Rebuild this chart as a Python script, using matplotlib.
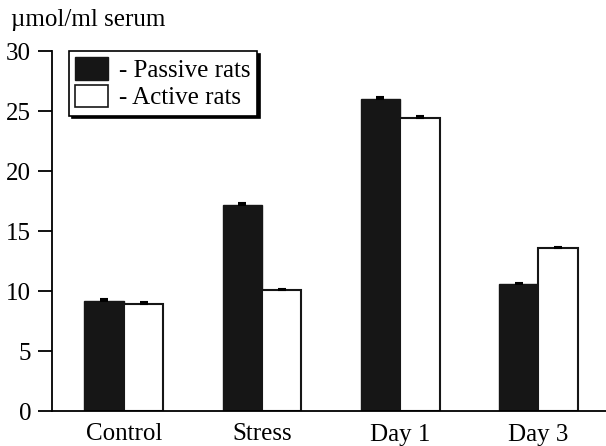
import numpy as np
import matplotlib.pyplot as plt
from matplotlib.patches import Patch

plt.rcParams['font.family'] = ['Liberation Serif', 'DejaVu Serif']

categories = ['Control', 'Stress', 'Day 1', 'Day 3']
passive = [9.2, 17.2, 26.0, 10.6]
active = [8.9, 10.1, 24.4, 13.6]
passive_err = [0.15, 0.1, 0.15, 0.1]
active_err = [0.15, 0.1, 0.15, 0.1]

fig = plt.figure(figsize=(6.06, 4.46), dpi=100)
ax = fig.add_axes([52 / 606, 1 - 411 / 446, 1 - 52 / 606, (411 - 51) / 446])

x = np.arange(len(categories))
w = 0.285
zeros = [0] * len(categories)
ax.bar(x - w / 2, passive, w, color='#161616', edgecolor='#161616', linewidth=1,
       yerr=[zeros, passive_err], error_kw=dict(ecolor='black', capsize=3, elinewidth=1, capthick=1.5))
ax.bar(x + w / 2, active, w, color='white', edgecolor='#161616', linewidth=1.5,
       yerr=[zeros, active_err], error_kw=dict(ecolor='black', capsize=3, elinewidth=1, capthick=1.5))

ax.set_xlim(-0.52, 3.49)
ax.set_ylim(0, 30)
ax.set_yticks(range(0, 31, 5))
ax.set_xticks(x)
ax.set_xticklabels(categories)
ax.tick_params(axis='x', length=0, pad=9, labelsize=18)
ax.tick_params(axis='y', length=10, width=1.3, direction='out', labelsize=18, pad=5)
for s in ['top', 'right']:
    ax.spines[s].set_visible(False)
ax.spines['left'].set_linewidth(1.3)
ax.spines['bottom'].set_linewidth(1.3)

fig.text(11 / 606, 1 - 20 / 446, 'µmol/ml serum', fontsize=18, va='center', ha='left')

handles = [Patch(facecolor='#161616', edgecolor='#161616'),
           Patch(facecolor='white', edgecolor='#161616', linewidth=1.2)]
leg = ax.legend(handles, ['- Passive rats', '- Active rats'], loc='upper left',
                bbox_to_anchor=(17 / 554, 1.0), fontsize=18, frameon=True, fancybox=False,
                shadow={'color': 'black', 'alpha': 1}, handlelength=1.3, handleheight=1.0,
                handletextpad=0.45, borderpad=0.25, labelspacing=0.1, borderaxespad=0)
leg.get_frame().set_edgecolor('black')
leg.get_frame().set_linewidth(1.2)

fig.savefig('out.png', dpi=100)
